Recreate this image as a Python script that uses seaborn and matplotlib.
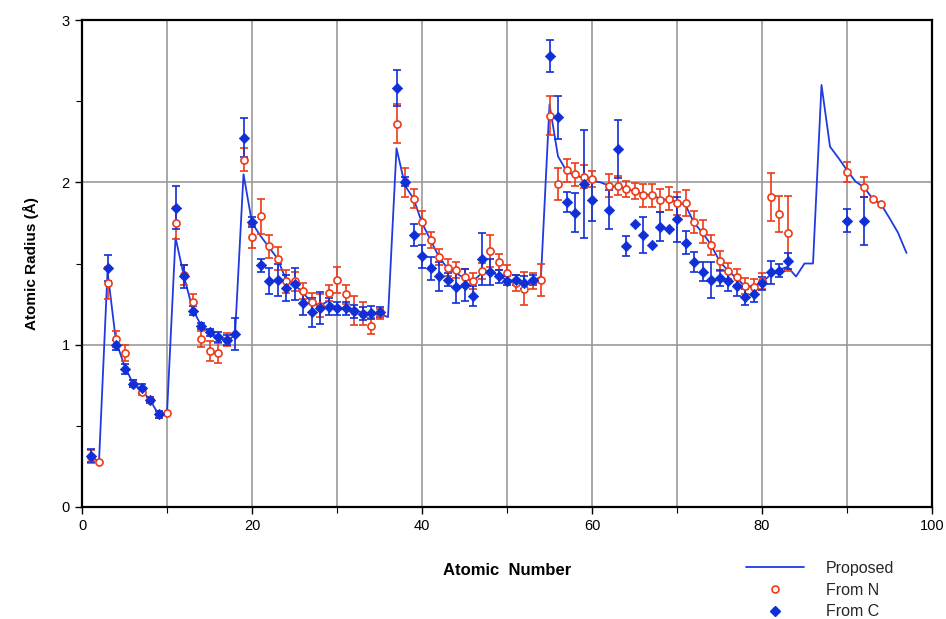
import numpy as np
import pandas as pd
import matplotlib
matplotlib.use("Agg")
import matplotlib.pyplot as plt
from matplotlib.lines import Line2D
import seaborn as sns

# ---------------- data ----------------
prop_z = list(range(1, 98))
prop_r = [0.31, 0.28, 1.45, 1.02, 0.87, 0.76, 0.72, 0.66, 0.57, 0.58,
          1.66, 1.42, 1.22, 1.12, 1.07, 1.05, 1.02, 1.06, 2.05, 1.75,
          1.67, 1.60, 1.53, 1.40, 1.37, 1.32, 1.26, 1.24, 1.27, 1.22,
          1.22, 1.21, 1.20, 1.19, 1.19, 1.17, 2.21, 1.98, 1.90, 1.75,
          1.645, 1.54, 1.47, 1.44, 1.41, 1.39, 1.44, 1.46, 1.42, 1.40,
          1.39, 1.38, 1.39, 1.42, 2.48, 2.16, 2.07, 2.04, 2.03, 2.01,
          2.00, 1.98, 1.97, 1.96, 1.945, 1.93, 1.92, 1.90, 1.89, 1.88,
          1.86, 1.75, 1.69, 1.615, 1.515, 1.455, 1.41, 1.36, 1.355, 1.385,
          1.43, 1.46, 1.48, 1.42, 1.50, 1.50, 2.60, 2.22, 2.15, 2.075,
          2.005, 1.97, 1.90, 1.865, 1.78, 1.69, 1.565]

n_z = [1, 2, 3, 4, 5, 6, 7, 8, 9, 10,
       11, 12, 13, 14, 15, 16, 17, 19, 20,
       21, 22, 23, 24, 25, 26, 27, 28, 29, 30,
       31, 32, 33, 34, 35, 37, 38, 39, 40,
       41, 42, 43, 44, 45, 46, 47, 48, 49, 50,
       51, 52, 53, 54, 55, 56, 57, 58, 59, 60,
       62, 63, 64, 65, 66, 67, 68, 69, 70,
       71, 72, 73, 74, 75, 76, 77, 78, 79, 80,
       81, 82, 83, 90, 92, 93, 94]
n_r = [0.31, 0.28, 1.38, 1.035, 0.95, 0.76, 0.71, 0.66, 0.57, 0.58,
       1.75, 1.43, 1.26, 1.035, 0.96, 0.95, 1.03, 2.14, 1.665,
       1.79, 1.605, 1.53, 1.39, 1.39, 1.33, 1.26, 1.24, 1.32, 1.40,
       1.31, 1.21, 1.19, 1.115, 1.19, 2.36, 2.00, 1.90, 1.754,
       1.645, 1.54, 1.475, 1.46, 1.415, 1.39, 1.455, 1.577, 1.507, 1.44,
       1.38, 1.345, 1.39, 1.40, 2.41, 1.99, 2.075, 2.05, 2.035, 2.02,
       1.98, 1.98, 1.96, 1.945, 1.92, 1.92, 1.89, 1.90, 1.87,
       1.87, 1.755, 1.695, 1.615, 1.515, 1.455, 1.415, 1.36, 1.355, 1.39,
       1.91, 1.805, 1.685, 2.065, 1.97, 1.90, 1.865]
n_err = [0.04, 0.0, 0.10, 0.05, 0.05, 0.02, 0.02, 0.02, 0.02, 0.0,
         0.10, 0.06, 0.05, 0.05, 0.06, 0.06, 0.04, 0.07, 0.07,
         0.11, 0.07, 0.07, 0.07, 0.06, 0.05, 0.06, 0.07, 0.05, 0.08,
         0.06, 0.09, 0.07, 0.05, 0.03, 0.12, 0.09, 0.06, 0.07,
         0.05, 0.05, 0.05, 0.05, 0.05, 0.05, 0.05, 0.10, 0.05, 0.05,
         0.05, 0.10, 0.05, 0.10, 0.12, 0.10, 0.07, 0.07, 0.07, 0.05,
         0.07, 0.06, 0.05, 0.05, 0.07, 0.07, 0.07, 0.07, 0.07,
         0.08, 0.07, 0.07, 0.06, 0.06, 0.05, 0.05, 0.05, 0.05, 0.05,
         0.15, 0.11, 0.23, 0.06, 0.06, 0.0, 0.0]

c_z = [1, 3, 4, 5, 6, 7, 8, 9,
       11, 12, 13, 14, 15, 16, 17, 18, 19, 20,
       21, 22, 23, 24, 25, 26, 27, 28, 29, 30,
       31, 32, 33, 34, 35, 37, 38, 39, 40,
       41, 42, 43, 44, 45, 46, 47, 48, 49, 50,
       51, 52, 53, 55, 56, 57, 58, 59, 60,
       62, 63, 64, 65, 66, 67, 68, 69, 70,
       71, 72, 73, 74, 75, 76, 77, 78, 79, 80,
       81, 82, 83, 90, 92]
c_r = [0.315, 1.47, 1.00, 0.85, 0.76, 0.73, 0.66, 0.57,
       1.845, 1.42, 1.21, 1.115, 1.075, 1.047, 1.027, 1.065, 2.275, 1.755,
       1.49, 1.39, 1.40, 1.35, 1.375, 1.255, 1.20, 1.225, 1.235, 1.225,
       1.225, 1.205, 1.19, 1.197, 1.20, 2.58, 2.005, 1.675, 1.545,
       1.47, 1.42, 1.40, 1.357, 1.368, 1.30, 1.525, 1.45, 1.42, 1.395,
       1.40, 1.382, 1.398, 2.78, 2.40, 1.88, 1.813, 1.99, 1.89,
       1.83, 2.205, 1.608, 1.743, 1.676, 1.614, 1.727, 1.713, 1.772,
       1.628, 1.51, 1.45, 1.398, 1.41, 1.392, 1.361, 1.296, 1.312, 1.378,
       1.446, 1.456, 1.517, 1.764, 1.762]
c_err = [0.04, 0.08, 0.03, 0.03, 0.02, 0.03, 0.02, 0.02,
         0.13, 0.07, 0.03, 0.02, 0.02, 0.03, 0.03, 0.10, 0.12, 0.03,
         0.04, 0.08, 0.10, 0.08, 0.10, 0.07, 0.09, 0.10, 0.05, 0.04,
         0.04, 0.04, 0.04, 0.04, 0.03, 0.11, 0.03, 0.07, 0.07,
         0.07, 0.09, 0.04, 0.10, 0.10, 0.06, 0.16, 0.08, 0.04, 0.03,
         0.03, 0.04, 0.03, 0.10, 0.13, 0.06, 0.12, 0.33, 0.13,
         0.12, 0.18, 0.06, 0.0, 0.11, 0.0, 0.09, 0.0, 0.14,
         0.07, 0.06, 0.06, 0.11, 0.05, 0.06, 0.06, 0.05, 0.05, 0.04,
         0.07, 0.04, 0.05, 0.07, 0.15]

x_major = [0, 20, 40, 60, 80, 100]
y_major = [0, 1, 2, 3]

# ---------------- style ----------------
sns.set_theme(style="white")
plt.rcParams['font.family'] = ['Liberation Sans', 'DejaVu Sans']

BLUE_LINE = "#1f3ae0"
BLUE = "#0f2fd8"
RED = "#ee3a16"

fig = plt.figure(figsize=(9.46, 6.19), dpi=100)
ax = fig.add_axes([0.0867, 0.181, 0.8985, 0.7866])

prop_df = pd.DataFrame({"Z": prop_z, "R": prop_r})
n_df = pd.DataFrame({"Z": n_z, "R": n_r, "E": n_err})
c_df = pd.DataFrame({"Z": c_z, "R": c_r, "E": c_err})

sns.lineplot(data=prop_df, x="Z", y="R", ax=ax, color=BLUE_LINE, lw=1.3,
             zorder=3, legend=False)

ne = n_df[n_df.E > 0]
ax.errorbar(ne.Z, ne.R, yerr=ne.E, fmt='none', ecolor=RED, elinewidth=1.2,
            capsize=2.6, capthick=1.2, zorder=4)
ce = c_df[c_df.E > 0]
ax.errorbar(ce.Z, ce.R, yerr=ce.E, fmt='none', ecolor=BLUE, elinewidth=1.2,
            capsize=2.6, capthick=1.2, zorder=5)

sns.scatterplot(data=n_df, x="Z", y="R", ax=ax, marker='o', s=26,
                facecolor='white', edgecolor=RED, linewidth=1.2, zorder=6,
                legend=False)
sns.scatterplot(data=c_df, x="Z", y="R", ax=ax, marker='D', s=28,
                color=BLUE, edgecolor=BLUE, linewidth=0.5, zorder=7,
                legend=False)

ax.set_xlim(0, 100)
ax.set_ylim(0, 3)
ax.set_xticks(x_major)
ax.set_xticks(np.arange(0, 101, 10), minor=True)
ax.set_yticks(y_major)
ax.set_yticks(np.arange(0, 3.01, 0.5), minor=True)
ax.set_xticklabels([str(v) for v in x_major])
ax.set_yticklabels([str(v) for v in y_major])

ax.grid(True, which='both', axis='x', color='#9a9a9a', lw=1.2, zorder=0)
ax.grid(True, which='major', axis='y', color='#9a9a9a', lw=1.2, zorder=0)
ax.set_axisbelow(True)

for sp in ax.spines.values():
    sp.set_color('black')
    sp.set_linewidth(1.6)

ax.tick_params(axis='both', which='both', direction='out', color='black',
               labelsize=10.5, labelcolor='black')
ax.tick_params(axis='both', which='major', length=5, width=1.0, pad=4,
               left=True, bottom=True)
ax.tick_params(axis='both', which='minor', length=4, width=0.8,
               left=True, bottom=True)

ax.set_xlabel("Atomic  Number", fontsize=12, fontweight='bold',
              labelpad=21, color='black')
ax.set_ylabel("Atomic Radius (Å)", fontsize=11, fontweight='bold',
              labelpad=16, color='black')

handles = [
    Line2D([], [], color=BLUE_LINE, lw=1.3),
    Line2D([], [], ls='none', marker='o', ms=5, mfc='white', mec=RED,
           mew=1.2),
    Line2D([], [], ls='none', marker='D', ms=5.2, color=BLUE),
]
fig.legend(handles, ["Proposed", "From N", "From C"], loc='upper left',
           bbox_to_anchor=(0.782, 0.104), frameon=False, fontsize=11.5,
           handlelength=3.6, handletextpad=1.4, labelspacing=0.42,
           borderaxespad=0)

fig.savefig("out.png", dpi=100)
